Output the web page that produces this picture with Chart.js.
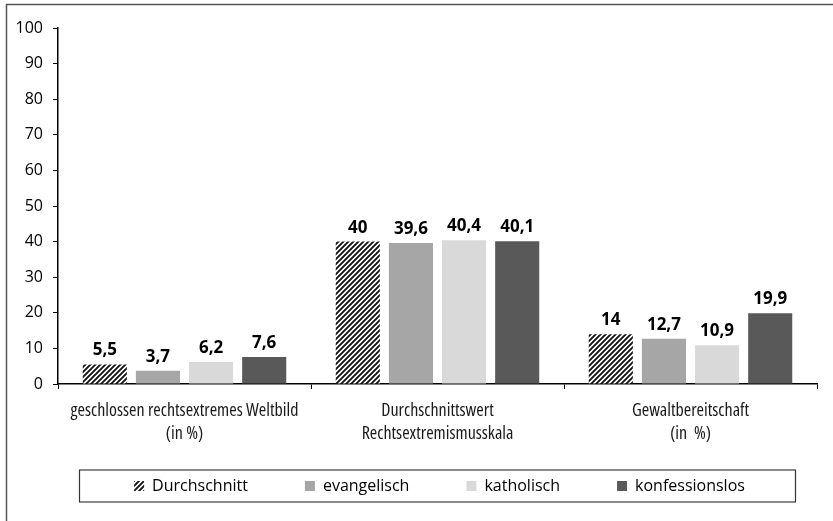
<!DOCTYPE html>
<html lang="de">
<head>
<meta charset="utf-8">
<title>Rechtsextremismus nach Konfession</title>
<script src="https://cdn.jsdelivr.net/npm/chart.js@4/dist/chart.umd.min.js"></script>
<style>
  html, body { margin: 0; padding: 0; background: #fff; }
  #wrap { width: 833px; height: 521px; }
</style>
</head>
<body>
<div id="wrap"><canvas id="chart" width="833" height="521"></canvas></div>
<script>
// Kategorien (zweizeilige Achsenbeschriftung)
const kategorien = [
    ['geschlossen rechtsextremes Weltbild', '(in %)'],
    ['Durchschnittswert', 'Rechtsextremismusskala'],
    ['Gewaltbereitschaft', '(in  %)']
];
const gruppen = ['Durchschnitt', 'evangelisch', 'katholisch', 'konfessionslos'];

// Werte je Gruppe
const durchschnitt = [5.5, 40, 14];
const evangelisch = [3.7, 39.6, 12.7];
const katholisch = [6.2, 40.4, 10.9];
const konfessionslos = [7.6, 40.1, 19.9];

// y-Achse
const yMin = 0;
const yMax = 100;
const yStep = 10;

const schrift = "'Open Sans', 'Noto Sans', sans-serif";

function schraffur() {
    const c = document.createElement('canvas');
    c.width = 5; c.height = 5;
    const g = c.getContext('2d');
    g.fillStyle = '#fff';
    g.fillRect(0, 0, 5, 5);
    g.strokeStyle = '#111';
    g.lineWidth = 1.9;
    g.beginPath();
    g.moveTo(-1, 6); g.lineTo(6, -1);
    g.moveTo(-3.5, 3.5); g.lineTo(3.5, -3.5);
    g.moveTo(1.5, 8.5); g.lineTo(8.5, 1.5);
    g.stroke();
    return g.createPattern(c, 'repeat');
}

const farben = [schraffur(), '#a6a6a6', '#d9d9d9', '#595959'];
const reihen = [durchschnitt, evangelisch, katholisch, konfessionslos];

// Rahmen um die ganze Grafik
const rahmen = {
    id: 'rahmen',
    beforeDraw(chart) {
        const ctx = chart.ctx;
        ctx.save();
        ctx.fillStyle = '#fff';
        ctx.fillRect(0, 0, chart.width, chart.height);
        ctx.strokeStyle = '#555';
        ctx.lineWidth = 1.5;
        ctx.strokeRect(6.5, 4.5, 840, 540);
        ctx.restore();
    }
};

// Legende unter die Grafik setzen und umrahmen
const legendenRahmen = {
    id: 'legendenRahmen',
    afterUpdate(chart) {
        const lg = chart.legend;
        const boxes = lg.legendHitBoxes;
        if (!boxes || !boxes.length) return;
        const erste = boxes[0];
        const letzte = boxes[boxes.length - 1];
        const dx = 439.5 - (erste.left + letzte.left + letzte.width) / 2;
        const dy = 486 - (erste.top + erste.height / 2);
        lg.left += dx; lg.right += dx;
        lg.top += dy; lg.bottom += dy;
        boxes.forEach(b => { b.left += dx; b.top += dy; });
    },
    afterDraw(chart) {
        const boxes = chart.legend.legendHitBoxes;
        if (!boxes || !boxes.length) return;
        const erste = boxes[0];
        const letzte = boxes[boxes.length - 1];
        const links = Math.round(erste.left - 55);
        const rechts = Math.round(letzte.left + letzte.width + 50);
        const oben = Math.round(erste.top + erste.height / 2 - 16);
        const unten = oben + 32;
        const ctx = chart.ctx;
        ctx.save();
        ctx.strokeStyle = '#8a8a8a';
        ctx.lineWidth = 2;
        ctx.beginPath();
        ctx.moveTo(links, oben);
        ctx.lineTo(rechts + 1, oben);
        ctx.moveTo(links, unten);
        ctx.lineTo(rechts + 1, unten);
        ctx.stroke();
        ctx.strokeStyle = '#333';
        ctx.lineWidth = 1.2;
        ctx.beginPath();
        ctx.moveTo(links + 0.5, oben);
        ctx.lineTo(links + 0.5, unten);
        ctx.moveTo(rechts + 0.5, oben);
        ctx.lineTo(rechts + 0.5, unten);
        ctx.stroke();
        ctx.restore();
    }
};

// Wertbeschriftung über den Säulen
const werte = {
    id: 'werte',
    afterDatasetsDraw(chart) {
        const ctx = chart.ctx;
        ctx.save();
        ctx.font = "bold 17px " + schrift;
        ctx.fillStyle = '#000';
        ctx.textAlign = 'center';
        ctx.textBaseline = 'alphabetic';
        chart.data.datasets.forEach((ds, i) => {
            chart.getDatasetMeta(i).data.forEach((bar, j) => {
                const txt = String(ds.data[j]).replace('.', ',');
                ctx.fillText(txt, bar.x, bar.y - 9);
            });
        });
        ctx.restore();
    }
};

new Chart(document.getElementById('chart'), {
    type: 'bar',
    data: {
        labels: kategorien,
        datasets: gruppen.map((name, i) => ({
            label: name,
            data: reihen[i],
            backgroundColor: farben[i],
            borderWidth: 0,
            barPercentage: 0.83,
            categoryPercentage: 0.84
        }))
    },
    options: {
        responsive: false,
        animation: false,
        devicePixelRatio: 1,
        layout: { padding: { top: 28, right: 16, bottom: -16, left: 0 } },
        plugins: {
            tooltip: { enabled: false },
            legend: {
                position: 'bottom',
                labels: {
                    boxWidth: 10,
                    boxHeight: 10,
                    padding: 57,
                    color: '#000',
                    font: { family: schrift, size: 16 }
                }
            }
        },
        scales: {
            x: {
                grid: {
                    offset: true,
                    drawOnChartArea: false,
                    tickLength: 5,
                    color: '#000'
                },
                border: { color: '#000', width: 1.5 },
                ticks: {
                    autoSkip: false,
                    color: '#1a1a1a',
                    padding: 10,
                    maxRotation: 0,
                    font: { family: schrift, weight: 'condensed', size: 18, lineHeight: 1.3 }
                },
                afterFit(scale) { scale.height = 70; }
            },
            y: {
                min: yMin,
                max: yMax,
                grid: {
                    drawOnChartArea: false,
                    tickLength: 5,
                    color: '#000'
                },
                border: { color: '#000', width: 1.5 },
                ticks: {
                    stepSize: yStep,
                    color: '#000',
                    padding: 10,
                    font: { family: schrift, size: 16 }
                },
                afterFit(scale) { scale.width = 58; }
            }
        }
    },
    plugins: [rahmen, legendenRahmen, werte]
});
</script>
</body>
</html>
